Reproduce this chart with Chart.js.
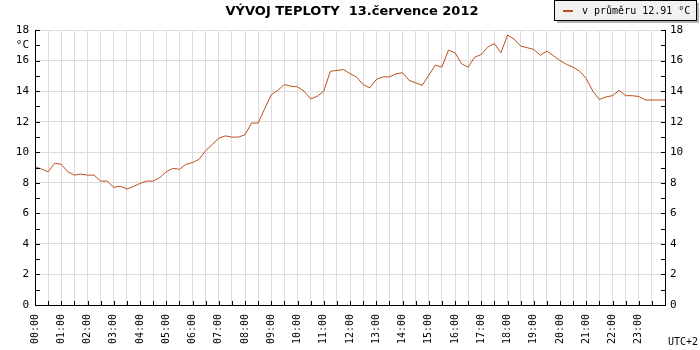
<!DOCTYPE html>
<html>
<head>
<meta charset="utf-8">
<script src="https://cdn.jsdelivr.net/npm/chart.js@4/dist/chart.umd.min.js"></script>
<style>
  body { margin: 0; background: #fff; }
  #graf { width: 700px; height: 350px; }
</style>
</head>
<body>
<div id="graf"><canvas id="myChart" width="700" height="350"></canvas></div>
<script>
// mereni po 15 minutach, 00:00 - 24:00
var krok = 0.25;
var teploty = [
    9.05, 8.9, 8.72, 9.28, 9.21, 8.72, 8.5, 8.57, 8.5, 8.5,
    8.11, 8.11, 7.7, 7.78, 7.59, 7.75, 7.96, 8.11, 8.11, 8.33,
    8.72, 8.95, 8.88, 9.21, 9.32, 9.54, 10.1, 10.5, 10.92, 11.07,
    10.99, 10.99, 11.14, 11.91, 11.91, 12.85, 13.77, 14.05, 14.43, 14.32,
    14.28, 13.99, 13.49, 13.66, 13.99, 15.3, 15.35, 15.41, 15.15, 14.91,
    14.43, 14.21, 14.76, 14.93, 14.93, 15.13, 15.2, 14.71, 14.54, 14.38,
    15.04, 15.7, 15.57, 16.68, 16.51, 15.79, 15.57, 16.22, 16.4, 16.88,
    17.11, 16.51, 17.67, 17.4, 16.95, 16.84, 16.73, 16.34, 16.62, 16.32,
    16.0, 15.75, 15.57, 15.3, 14.82, 14.0, 13.45, 13.62, 13.7, 14.05,
    13.7, 13.7, 13.65, 13.42, 13.42, 13.42, 13.42
];
var hodiny = [
    '00:00', '01:00', '02:00', '03:00', '04:00', '05:00', '06:00', '07:00',
    '08:00', '09:00', '10:00', '11:00', '12:00', '13:00', '14:00', '15:00',
    '16:00', '17:00', '18:00', '19:00', '20:00', '21:00', '22:00', '23:00'
];
var titulek = 'VÝVOJ TEPLOTY  13.července 2012';
var legenda = 'v průměru 12.91 °C';
var jednotka = '°C';
var zona = 'UTC+2';

var barva = 'rgb(190, 78, 28)';
var pismo = '"DejaVu Sans Mono", monospace';

var body = [];
for (var i = 0; i < teploty.length; i++) {
    body.push({ x: i * krok, y: teploty[i] });
}

// osy s carkami dovnitr, titulek a legenda
var osyPlugin = {
    id: 'osy',
    afterDraw: function(chart) {
        var ctx = chart.ctx;
        var a = chart.chartArea;
        var sx = chart.scales.x;
        var sy = chart.scales.y;
        ctx.save();
        ctx.strokeStyle = '#000';
        ctx.lineWidth = 1;
        ctx.beginPath();
        ctx.moveTo(a.left + 0.5, a.top);
        ctx.lineTo(a.left + 0.5, a.bottom + 0.5);
        ctx.lineTo(a.right + 0.5, a.bottom + 0.5);
        ctx.lineTo(a.right + 0.5, a.top);
        for (var v = 0; v <= 18; v++) {
            var py = Math.round(sy.getPixelForValue(v)) + 0.5;
            ctx.moveTo(a.left, py); ctx.lineTo(a.left + 5, py);
            ctx.moveTo(a.right - 4, py); ctx.lineTo(a.right + 1, py);
        }
        for (var t = 0; t <= 24; t += 0.5) {
            var px = Math.round(sx.getPixelForValue(t)) + 0.5;
            ctx.moveTo(px, a.bottom); ctx.lineTo(px, a.bottom - 4);
        }
        ctx.stroke();

        ctx.fillStyle = '#000';
        ctx.font = '11px ' + pismo;
        ctx.textAlign = 'right';
        ctx.textBaseline = 'middle';
        ctx.fillText(jednotka, 29, 45);
        ctx.textAlign = 'left';
        ctx.font = '10px ' + pismo;
        ctx.fillText(zona, 668, 342);

        ctx.font = 'bold 13px "DejaVu Sans", sans-serif';
        ctx.textAlign = 'center';
        ctx.fillText(titulek, 352, 12);

        // legenda vpravo nahore
        ctx.fillStyle = '#b4b4b4';
        ctx.fillRect(557, 3, 142, 20);
        ctx.fillStyle = '#f2f2f2';
        ctx.fillRect(555, 1, 142, 20);
        ctx.strokeStyle = '#000';
        ctx.strokeRect(554.5, 0.5, 142, 20);
        ctx.strokeStyle = barva;
        ctx.lineWidth = 2;
        ctx.beginPath();
        ctx.moveTo(563, 11); ctx.lineTo(573, 11);
        ctx.stroke();
        ctx.fillStyle = '#000';
        ctx.font = '10px ' + pismo;
        ctx.textAlign = 'left';
        ctx.fillText(legenda, 582, 11);
        ctx.restore();
    }
};

function chartCreate() {
    var data = {
        datasets: [{
            label: legenda,
            data: body,
            borderColor: barva,
            backgroundColor: barva,
            borderWidth: 1,
            pointRadius: 0,
            tension: 0
        }]
    };
    var config = {
        type: 'line',
        data: data,
        options: {
            responsive: false,
            animation: false,
            layout: { padding: { top: 30, left: 0, right: 0, bottom: 0 } },
            plugins: {
                legend: { display: false },
                title: { display: false },
                tooltip: { enabled: false }
            },
            scales: {
                x: {
                    type: 'linear',
                    min: 0,
                    max: 24,
                    border: { display: false },
                    grid: { color: '#dcdcdc', drawTicks: false },
                    afterFit: function(s) { s.height = 45; },
                    afterBuildTicks: function(s) {
                        var tt = [];
                        for (var t = 0; t <= 24; t += 0.5) tt.push({ value: t });
                        s.ticks = tt;
                    },
                    ticks: {
                        autoSkip: false,
                        minRotation: 90,
                        maxRotation: 90,
                        padding: 9,
                        color: '#000',
                        font: { family: pismo, size: 10 },
                        callback: function(v) {
                            return (v % 1 === 0 && v < 24) ? hodiny[v] : '';
                        }
                    }
                },
                y: {
                    min: 0,
                    max: 18,
                    position: 'left',
                    border: { display: false },
                    grid: { color: '#dcdcdc', drawTicks: false },
                    afterFit: function(s) { s.width = 35; },
                    ticks: {
                        stepSize: 2,
                        padding: 6,
                        color: '#000',
                        font: { family: pismo, size: 11 }
                    }
                },
                y2: {
                    min: 0,
                    max: 18,
                    position: 'right',
                    border: { display: false },
                    grid: { display: false, drawTicks: false },
                    afterFit: function(s) { s.width = 35; },
                    ticks: {
                        stepSize: 2,
                        padding: 5,
                        color: '#000',
                        font: { family: pismo, size: 11 }
                    }
                }
            }
        },
        plugins: [osyPlugin]
    };
    var myChart = new Chart(document.getElementById('myChart'), config);
}

chartCreate();
</script>
</body>
</html>
